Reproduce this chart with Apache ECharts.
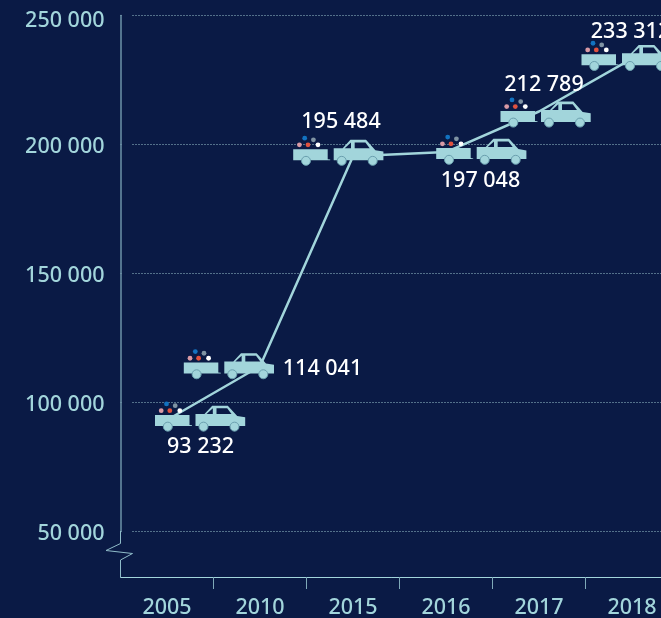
<!DOCTYPE html>
<html>
<head>
<meta charset="utf-8">
<style>
  html, body { margin: 0; padding: 0; background: #0a1a45; overflow: hidden; }
  #main { width: 661px; height: 618px; }
</style>
<script src="https://cdn.jsdelivr.net/npm/echarts@6/dist/echarts.min.js"></script>
</head>
<body>
<div id="main"></div>
<script>
  // 数据
  const categories = ['2005', '2010', '2015', '2016', '2017', '2018']
  const values = [93232, 114041, 195484, 197048, 212789, 233312]

  // 每个小车图标 / 数字相对数据点的偏移
  const iconShift = [[-12, -15], [-76.2, -13.7], [-59.8, -17], [-9.8, -14], [-38.5, -10.6], [-50.5, -14.3]]
  const labelShift = [[33.5, 27], [62.5, 3], [-12, -34], [34.5, 29], [5, -26.5], [-1.5, -26.6]]

  const bg = '#0a1a45'
  const teal = '#a2d5db'
  const fontFamily = '"Noto Sans"'
  const fontSize = 21.5
  const fontWeight = 500

  const spaced = v => String(v).replace(/\B(?=(\d{3})+$)/g, ' ')

  // 拖车 + 小汽车，坐标以图标左上角为原点
  function carIcon (x, y) {
    const wheel = (cx) => ({
      type: 'circle',
      shape: { cx: x + cx, cy: y + 21.7, r: 4.5 },
      style: { fill: teal, stroke: '#6a9fae', lineWidth: 1 }
    })
    const dot = (cx, cy, fill) => ({
      type: 'circle',
      shape: { cx: x + cx, cy: y + cy, r: 2.4 },
      style: { fill: fill }
    })
    const poly = (pts, fill) => ({
      type: 'polygon',
      shape: { points: pts.map(p => [x + p[0], y + p[1]]) },
      style: { fill: fill }
    })
    return [
      // 拖车
      poly([[0, 10], [34.5, 10], [34.5, 20], [37, 20.3], [37, 21], [0, 21]], teal),
      wheel(12.8),
      dot(11.5, -1, '#1272c0'),
      dot(20.2, 0.7, '#7f93a3'),
      dot(6.2, 5.7, '#d99aa5'),
      dot(14.8, 5.7, '#e0523f'),
      dot(24.8, 5.7, '#ffffff'),
      // 车身
      poly([[40.5, 9], [49.5, 9], [57.2, 0.7], [72.8, 0.7], [82.2, 11], [90.2, 12.3],
        [90.2, 21], [40.5, 21]], teal),
      poly([[51.5, 9], [57.8, 3.3], [57.8, 9]], bg),
      poly([[61.5, 3.3], [72.2, 3.3], [76.5, 9], [61.5, 9]], bg),
      wheel(48.5),
      wheel(79.5)
    ]
  }

  let chart = echarts.init(document.getElementById('main'))
  chart.setOption({
    backgroundColor: bg,
    animation: false,
    grid: {
      left: 120.5,
      top: 15.5,
      width: 558,
      height: 516,
      containLabel: false,
      outerBoundsMode: 'none'
    },
    xAxis: {
      type: 'category',
      data: categories,
      offset: 45.5,
      axisLine: { lineStyle: { color: teal, width: 1 } },
      axisTick: { show: true, alignWithLabel: false, length: 12, lineStyle: { color: '#7fa9b8', width: 1 } },
      axisLabel: { color: teal, fontFamily: fontFamily, fontSize: fontSize, fontWeight: fontWeight, margin: 20, interval: 0, hideOverlap: false }
    },
    yAxis: {
      type: 'value',
      min: 50000,
      max: 250000,
      interval: 50000,
      axisLine: { show: true, lineStyle: { color: '#6d93a8', width: 1.5 } },
      axisTick: { show: false },
      axisLabel: {
        color: teal,
        fontFamily: fontFamily,
        fontSize: fontSize,
        fontWeight: fontWeight,
        margin: 16,
        padding: [4, 0, 0, 0],
        showMaxLabel: true,
        formatter: v => v === 250000 ? '{top|' + spaced(v) + '}' : spaced(v),
        rich: { top: { color: teal, fontFamily: fontFamily, fontSize: fontSize, fontWeight: fontWeight, padding: [6, 0, 0, 0] } }
      },
      splitLine: { lineStyle: { color: '#9cc6d0', type: [1, 2], width: 1 } }
    },
    // 断轴的折线，遮住网格线起始段和多余的首个刻度
    graphic: [
      {
        type: 'rect',
        z: 1,
        shape: { x: 122, y: 5, width: 10, height: 535 },
        style: { fill: bg }
      },
      {
        type: 'rect',
        z: 1,
        shape: { x: 117, y: 578, width: 7, height: 14 },
        style: { fill: bg }
      },
      {
        type: 'polyline',
        z: 1,
        shape: { points: [[120.5, 531], [120.5, 543.5], [106, 550.5], [132.5, 553.5], [120.5, 560], [120.5, 577]] },
        style: { fill: null, stroke: '#8fbcc9', lineWidth: 1 }
      }
    ],
    series: [
      {
        type: 'line',
        z: 2,
        data: values,
        symbol: 'none',
        lineStyle: { color: teal, width: 2.5 }
      },
      {
        type: 'custom',
        z: 3,
        clip: false,
        data: values.map((v, i) => [i, v]),
        renderItem (params, api) {
          const i = params.dataIndex
          const pt = api.coord([api.value(0), api.value(1)])
          const children = carIcon(pt[0] + iconShift[i][0], pt[1] + iconShift[i][1])
          children.push({
            type: 'text',
            style: {
              text: spaced(values[i]),
              x: pt[0] + labelShift[i][0],
              y: pt[1] + labelShift[i][1],
              fill: '#ffffff',
              fontFamily: fontFamily,
              fontSize: fontSize,
              fontWeight: fontWeight,
              align: 'center',
              verticalAlign: 'middle'
            }
          })
          return { type: 'group', children: children }
        }
      }
    ]
  })
</script>
</body>
</html>
